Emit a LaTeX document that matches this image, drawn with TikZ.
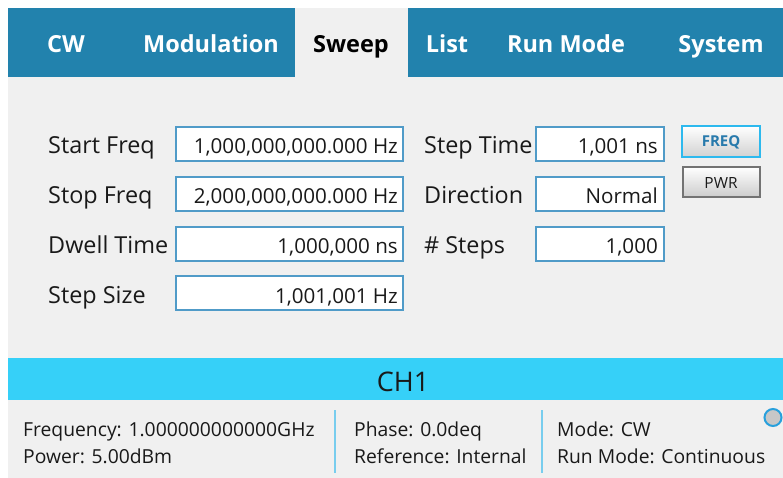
\documentclass[tikz,border=0pt]{standalone}
\usepackage{fontspec}
\setmainfont{Open Sans}
\usepackage{tikz}

\definecolor{tabblue}{RGB}{34,130,173}
\definecolor{panelgray}{RGB}{240,240,240}
\definecolor{barcyan}{RGB}{54,208,248}
\definecolor{boxedge}{RGB}{80,155,200}
\definecolor{sepblue}{RGB}{120,205,238}
\definecolor{textdark}{RGB}{25,25,25}
\definecolor{freqblue}{RGB}{40,122,172}
\definecolor{freqedge}{RGB}{45,185,238}
\definecolor{pwredge}{RGB}{115,115,115}
\definecolor{ledblue}{RGB}{40,160,220}

\begin{document}
\begin{tikzpicture}[x=1pt,y=-1pt,
        tab/.style={anchor=base,inner sep=0pt,text=white,font=\fontsize{23.5}{27}\selectfont\bfseries},
        lbl/.style={anchor=base west,inner sep=0pt,text=textdark,font=\fontsize{23.4}{27}\selectfont},
        val/.style={anchor=base east,inner sep=0pt,text=textdark,font=\fontsize{20.6}{24}\selectfont},
        info/.style={anchor=base west,inner sep=0pt,text=textdark,font=\fontsize{19.3}{23}\selectfont},
        field/.style={draw=boxedge,fill=white,line width=1.2pt}]
            \useasboundingbox (0,0) rectangle (783,478);
            \fill[white] (0,0) rectangle (783,478);

            % tab bar
            \fill[tabblue] (8,8) rectangle (783,77);
            \fill[panelgray] (295,8) rectangle (408,77);
            \node[tab] (cw) at (66,53) {CW};
            \node[tab] (modulation) at (211,53) {Modulation};
            \node[tab,text=black] (sweep) at (351,53) {Sweep};
            \node[tab] (list) at (447,53) {List};
            \node[tab] (runmode) at (566,53) {Run Mode};
            \node[tab] (system) at (721,53) {System};

            % sweep settings
            \fill[panelgray] (8,77) rectangle (783,358);

            \node[lbl] (startlbl) at (48,154) {Start Freq};
            \node[lbl] (stoplbl) at (48,204) {Stop Freq};
            \node[lbl] (dwelllbl) at (48,253) {Dwell Time};
            \node[lbl] (sizelbl) at (48,303) {Step Size};

            \draw[field] (176,127) rectangle (403,161);
            \draw[field] (176,177) rectangle (403,211);
            \draw[field] (176,227) rectangle (403,261);
            \draw[field] (176,276) rectangle (403,310);
            \node[val] (startval) at (398,154) {1,000,000,000.000 Hz};
            \node[val] (stopval) at (398,204) {2,000,000,000.000 Hz};
            \node[val] (dwellval) at (398,253) {1,000,000 ns};
            \node[val] (sizeval) at (398,303) {1,001,001 Hz};

            \node[lbl] (timelbl) at (424,154) {Step Time};
            \node[lbl] (dirlbl) at (424,204) {Direction};
            \node[lbl] (stepslbl) at (424,253) {\# Steps};

            \draw[field] (536,127) rectangle (664,161);
            \draw[field] (536,177) rectangle (664,211);
            \draw[field] (536,227) rectangle (664,261);
            \node[val] (timeval) at (658,154) {1,001 ns};
            \node[val] (dirval) at (658,204) {Normal};
            \node[val] (stepsval) at (658,253) {1,000};

            \shade[top color=white,bottom color=black!18] (682,126) rectangle (760,157);
            \draw[freqedge,line width=2pt] (682,126) rectangle (760,157);
            \node[text=freqblue,font=\fontsize{15}{17}\selectfont\bfseries] (freq) at (721,142) {FREQ};
            \shade[top color=white,bottom color=black!20] (683,167) rectangle (760,197);
            \draw[pwredge,line width=1.2pt] (683,167) rectangle (760,197);
            \node[text=textdark,font=\fontsize{15.4}{17}\selectfont] (pwr) at (721,183) {PWR};

            % channel status
            \fill[barcyan] (8,358) rectangle (783,400);
            \node[anchor=base,inner sep=0pt,text=textdark,font=\fontsize{27}{30}\selectfont] (ch1) at (403,391) {CH1};
            \fill[panelgray] (8,400) rectangle (783,478);

            \draw[sepblue,line width=2pt] (335,410) -- (335,473);
            \draw[sepblue,line width=2pt] (542,410) -- (542,473);

            \node[info] (freqinfo) at (23,436) {Frequency: 1.000000000000GHz};
            \node[info] (powerinfo) at (23,463) {Power: 5.00dBm};
            \node[info] (phaseinfo) at (354,436) {Phase: 0.0deq};
            \node[info] (refinfo) at (354,463) {Reference: Internal};
            \node[info] (modeinfo) at (557,436) {Mode: CW};
            \node[info] (runinfo) at (557,463) {Run Mode: Continuous};

            \filldraw[fill=black!22,draw=ledblue,line width=2pt] (773,417.5) circle (8.5);
        \end{tikzpicture}
\end{document}
